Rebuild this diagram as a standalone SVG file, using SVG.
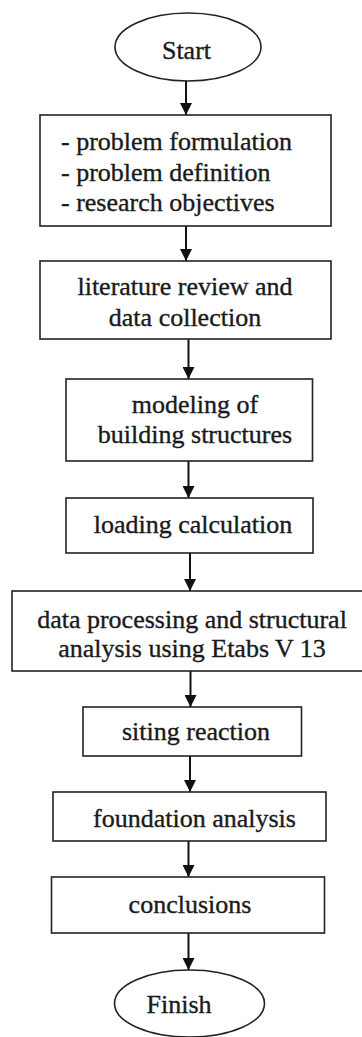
<svg xmlns="http://www.w3.org/2000/svg" width="362" height="1037" viewBox="0 0 362 1037">
  <style>
    .shape { fill: #ffffff; stroke: #222222; stroke-width: 1.6; }
    .label { font-family: "Liberation Serif", "Times New Roman", serif; font-size: 26px; fill: #1a1a1a; stroke: #1a1a1a; stroke-width: 0.35; text-anchor: middle; }
    .left { text-anchor: start; }
    .link { stroke: #111111; stroke-width: 2; fill: none; marker-end: url(#head); }
  </style>
  <defs>
    <marker id="head" viewBox="0 0 12 12" refX="12" refY="6" markerWidth="12" markerHeight="12" markerUnits="userSpaceOnUse" orient="auto">
      <path d="M0,0 L12,6 L0,12 Z" fill="#111111"/>
    </marker>
  </defs>
  <rect width="362" height="1037" fill="#ffffff"/>

  <g id="connectors">
    <line class="link" x1="186" y1="81" x2="186" y2="115"/>
    <line class="link" x1="186" y1="226" x2="186" y2="261"/>
    <line class="link" x1="188.5" y1="339" x2="188.5" y2="379"/>
    <line class="link" x1="188.5" y1="461" x2="188.5" y2="498"/>
    <line class="link" x1="190" y1="553" x2="190" y2="591"/>
    <line class="link" x1="190.5" y1="671" x2="190.5" y2="707"/>
    <line class="link" x1="190" y1="756" x2="190" y2="792"/>
    <line class="link" x1="188.5" y1="841" x2="188.5" y2="877"/>
    <line class="link" x1="188.5" y1="933" x2="188.5" y2="970"/>
  </g>

  <g id="start">
    <ellipse class="shape" cx="188" cy="47" rx="73" ry="34"/>
    <text class="label" x="186.5" y="59">Start</text>
  </g>

  <g id="problem">
    <rect class="shape" x="40" y="115" width="291" height="111"/>
    <text class="label left" x="61" y="150">- problem formulation</text>
    <text class="label left" x="61" y="181">- problem definition</text>
    <text class="label left" x="61" y="211">- research objectives</text>
  </g>

  <g id="literature">
    <rect class="shape" x="40" y="261" width="291" height="78"/>
    <text class="label" x="185" y="295">literature review and</text>
    <text class="label" x="185" y="326">data collection</text>
  </g>

  <g id="modeling">
    <rect class="shape" x="66" y="379" width="246.5" height="82"/>
    <text class="label" x="195" y="413">modeling of</text>
    <text class="label" x="195" y="443">building structures</text>
  </g>

  <g id="loading">
    <rect class="shape" x="66" y="498" width="247" height="55"/>
    <text class="label" x="193" y="533">loading calculation</text>
  </g>

  <g id="analysis">
    <rect class="shape" x="12" y="591" width="352" height="80"/>
    <text class="label" x="192" y="628">data processing and structural</text>
    <text class="label" x="192" y="657">analysis using Etabs V 13</text>
  </g>

  <g id="siting">
    <rect class="shape" x="83" y="707" width="218.5" height="49"/>
    <text class="label" x="196" y="740">siting reaction</text>
  </g>

  <g id="foundation">
    <rect class="shape" x="53" y="792" width="273" height="49"/>
    <text class="label" x="194.5" y="827">foundation analysis</text>
  </g>

  <g id="conclusions">
    <rect class="shape" x="51.5" y="877" width="273" height="56"/>
    <text class="label" x="190" y="913">conclusions</text>
  </g>

  <g id="finish">
    <ellipse class="shape" cx="189.5" cy="1003.5" rx="75" ry="33.5"/>
    <text class="label" x="179" y="1013">Finish</text>
  </g>
</svg>
